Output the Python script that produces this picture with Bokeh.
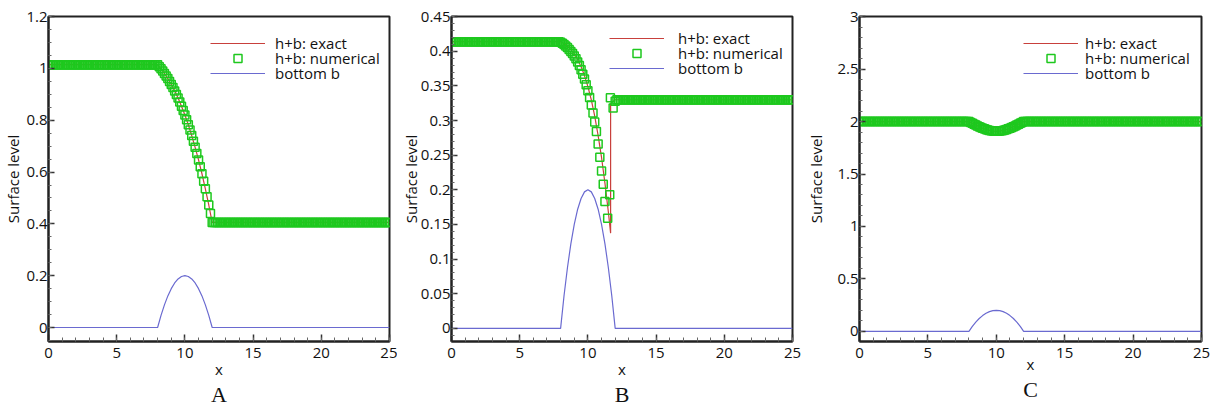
import numpy as np
from bokeh.plotting import figure
from bokeh.layouts import row
from bokeh.models import (Range1d, SingleIntervalTicker, CustomJSTickFormatter,
                          Legend, LegendItem)
from bokeh.embed import file_html
from bokeh.resources import INLINE

# ---------------- data ----------------
# numerical mesh nodes (cell spacing 0.125)
x_mesh = np.linspace(0, 25, 201)

# bottom topography b(x), same bump in all three cases
bottom_x = [0, 8, 8.25, 8.5, 8.75, 9, 9.25, 9.5, 9.75, 10, 10.25, 10.5,
            10.75, 11, 11.25, 11.5, 11.75, 12, 25]
bottom_b = [0, 0, 0.047, 0.0875, 0.122, 0.15, 0.172, 0.1875, 0.197, 0.2,
            0.197, 0.1875, 0.172, 0.15, 0.122, 0.0875, 0.047, 0, 0]

# --- A: transcritical flow without shock ---
A_exact_x = [0, 8, 8.25, 8.5, 8.75, 9, 9.25, 9.5, 9.75, 10, 10.25, 10.5,
             10.75, 11, 11.25, 11.5, 11.75, 12, 25]
A_exact_y = [1.0145, 1.0145, 0.9987, 0.9808, 0.961, 0.9383, 0.9134, 0.8855,
             0.854, 0.8202, 0.7827, 0.741, 0.6954, 0.6468, 0.5935, 0.5352,
             0.4729, 0.4057, 0.4057]
A_num_up = 1.0145
A_num_down = 0.4057
A_num_mid_x = [8.0, 8.125, 8.25, 8.375, 8.5, 8.625, 8.75, 8.875, 9.0, 9.125,
               9.25, 9.375, 9.5, 9.625, 9.75, 9.875, 10.0, 10.125, 10.25,
               10.375, 10.5, 10.625, 10.75, 10.875, 11.0, 11.125, 11.25,
               11.375, 11.5, 11.625, 11.75, 11.875, 12.0]
A_num_mid_y = [1.0145, 1.0069, 0.9987, 0.990, 0.9808, 0.9711, 0.961, 0.950,
               0.9383, 0.9261, 0.9134, 0.8999, 0.8855, 0.870, 0.854, 0.8372,
               0.8202, 0.8017, 0.7827, 0.7622, 0.741, 0.719, 0.6954, 0.6716,
               0.6468, 0.6204, 0.5935, 0.565, 0.5352, 0.5045, 0.4729, 0.4397,
               0.4057]

# --- B: transcritical flow with shock ---
B_exact_x = [0, 8, 8.25, 8.5, 8.75, 9, 9.25, 9.5, 9.75, 10, 10.25, 10.5,
             10.75, 11, 11.25, 11.5, 11.665, 11.665, 11.8, 12, 25]
B_exact_y = [0.4138, 0.4138, 0.4113, 0.4073, 0.4022, 0.3961, 0.3881, 0.3778,
             0.3649, 0.3489, 0.3297, 0.3063, 0.2783, 0.2467, 0.2094, 0.1679,
             0.1374, 0.324, 0.327, 0.33, 0.33]
B_num_up = 0.4138
B_num_down = 0.33
B_num_mid_x = [8.0, 8.125, 8.25, 8.375, 8.5, 8.625, 8.75, 8.875, 9.0, 9.125,
               9.25, 9.375, 9.5, 9.625, 9.75, 9.875, 10.0, 10.125, 10.25,
               10.375, 10.5, 10.625, 10.75, 10.875, 11.0, 11.125, 11.25,
               11.45, 11.6, 11.65, 11.85, 12.0]
B_num_mid_y = [0.413, 0.4115, 0.4098, 0.4077, 0.4053, 0.4027, 0.3998, 0.3967,
               0.3931, 0.3891, 0.3845, 0.3793, 0.3735, 0.367, 0.3598, 0.3517,
               0.343, 0.3333, 0.3226, 0.3109, 0.298, 0.284, 0.266, 0.247,
               0.227, 0.208, 0.183, 0.159, 0.193, 0.333, 0.318, 0.328]

# --- C: subcritical flow ---
C_exact_x = [0, 8, 8.25, 8.5, 8.75, 9, 9.25, 9.5, 9.75, 10, 10.25, 10.5,
             10.75, 11, 11.25, 11.5, 11.75, 12, 25]
C_exact_y = [2.0, 2.0, 1.9834, 1.967, 1.9519, 1.937, 1.9249, 1.9155, 1.9099,
             1.907, 1.9099, 1.9155, 1.9249, 1.937, 1.9519, 1.967, 1.9834,
             2.0, 2.0]
C_num_up = 2.0
C_num_down = 2.0
C_num_mid_x = [8.0, 8.125, 8.25, 8.375, 8.5, 8.625, 8.75, 8.875, 9.0, 9.125,
               9.25, 9.375, 9.5, 9.625, 9.75, 9.875, 10.0, 10.125, 10.25,
               10.375, 10.5, 10.625, 10.75, 10.875, 11.0, 11.125, 11.25,
               11.375, 11.5, 11.625, 11.75, 11.875, 12.0]
C_num_mid_y = [2.0, 1.9915, 1.9834, 1.975, 1.967, 1.959, 1.9519, 1.944,
               1.937, 1.931, 1.9249, 1.92, 1.9155, 1.9125, 1.9099, 1.908,
               1.907, 1.908, 1.9099, 1.9125, 1.9155, 1.92, 1.9249, 1.931,
               1.937, 1.944, 1.9519, 1.959, 1.967, 1.975, 1.9834, 1.9915, 2.0]

legend_labels = ["h+b: exact", "h+b: numerical", "bottom b"]
panel_letters = ["A", "B", "C"]
x_label = "x"
y_label = "Surface level"

# ---------------- style ----------------
RED = "#c8403c"
GREEN = "#1ec81e"
BLUE = "#6a6ad0"
FONT = "Open Sans"
AXC = "#222222"

FMT = "return String(Math.round(tick * 1000) / 1000);"


def numerical(mid_x, mid_y, up, down):
    left = [float(v) for v in x_mesh if v < mid_x[0] - 1e-9]
    right = [float(v) for v in x_mesh if v > mid_x[-1] + 1e-9]
    xs = left + list(mid_x) + right
    ys = [up] * len(left) + list(mid_y) + [down] * len(right)
    return xs, ys


def panel(width, bl, br, yr, interval, nminor, ex_x, ex_y, num, letter,
          leg_x, leg_standoff, ylab_standoff, leg_vy, xlab_standoff):
    p = figure(width=width, height=408, x_range=Range1d(0, 25),
               y_range=Range1d(*yr), output_backend="svg",
               toolbar_location=None, min_border_left=bl,
               min_border_right=br, min_border_top=16, min_border_bottom=10,
               title=letter, title_location="below")
    p.title.align = "center"
    p.title.vertical_align = "top"
    p.title.text_font = "Liberation Serif"
    p.title.text_font_size = "22px"
    p.title.text_font_style = "normal"
    p.title.text_color = "#111111"
    p.title.standoff = 0
    p.xgrid.visible = False
    p.ygrid.visible = False
    p.outline_line_color = AXC
    p.outline_line_width = 2
    p.outline_line_alpha = 1
    p.xaxis.ticker = SingleIntervalTicker(interval=5, num_minor_ticks=5)
    p.yaxis.ticker = SingleIntervalTicker(interval=interval,
                                          num_minor_ticks=nminor)
    p.xaxis.formatter = CustomJSTickFormatter(code=FMT)
    p.yaxis.formatter = CustomJSTickFormatter(code=FMT)
    for ax in (p.xaxis[0], p.yaxis[0]):
        ax.axis_line_color = AXC
        ax.axis_line_width = 2
        ax.major_tick_out = 0
        ax.minor_tick_out = 0
        ax.major_tick_line_color = "#333333"
        ax.major_tick_line_width = 1.5
        ax.minor_tick_line_color = "#666666"
        ax.major_label_text_font = FONT
        ax.major_label_text_font_size = "15px"
        ax.major_label_text_color = "#111111"
        ax.axis_label_text_font = FONT
        ax.axis_label_text_font_size = "15px"
        ax.axis_label_text_font_style = "normal"
        ax.axis_label_text_color = "#111111"
    p.xaxis.major_tick_in = 7
    p.xaxis.minor_tick_in = 4
    p.yaxis.major_tick_in = 6
    p.yaxis.minor_tick_in = 3
    p.xaxis.major_label_standoff = 6
    p.xaxis.axis_label_standoff = xlab_standoff
    p.yaxis.major_label_standoff = 1
    p.yaxis.axis_label_standoff = ylab_standoff
    p.xaxis.axis_label = x_label
    p.yaxis.axis_label = y_label

    r_b = p.line(bottom_x, bottom_b, line_color=BLUE, line_width=1.2)
    r_e = p.line(ex_x, ex_y, line_color=RED, line_width=1.2)
    nx, ny = num
    r_n = p.scatter(nx, ny, marker="square", size=8, fill_color=None,
                    line_color=GREEN, line_width=1.5)

    # one legend per row, so that the rows sit as tightly as in the original
    for lab, rend, vy in zip(legend_labels, [r_e, r_n, r_b], leg_vy):
        lg = Legend(items=[LegendItem(label=lab, renderers=[rend])],
                    location=(leg_x, vy), border_line_color=None,
                    background_fill_alpha=0, padding=0, margin=0, spacing=0,
                    glyph_width=55, glyph_height=20, label_height=20,
                    label_standoff=leg_standoff,
                    label_text_font=FONT, label_text_font_size="15px",
                    label_text_line_height=1.0,
                    label_text_color="#111111")
        p.add_layout(lg)
    return p


pA = panel(397, 48, 8, (-0.054, 1.2005), 0.2, 4, A_exact_x, A_exact_y,
           numerical(A_num_mid_x, A_num_mid_y, A_num_up, A_num_down),
           panel_letters[0], 162, 10, 0, [288, 273, 258], -2)
pB = panel(406, 54, 11, (-0.019, 0.4502), 0.05, 5, B_exact_x, B_exact_y,
           numerical(B_num_mid_x, B_num_mid_y, B_num_up, B_num_down),
           panel_letters[1], 158, 14, -3, [293, 278, 263], -2)
pC = panel(413, 56, 15, (-0.097, 3.002), 0.5, 5, C_exact_x, C_exact_y,
           numerical(C_num_mid_x, C_num_mid_y, C_num_up, C_num_down),
           panel_letters[2], 164, 7, 8, [288, 273, 258], -7)

layout = row(pA, pB, pC)
open("out.html", "w").write(file_html(layout, INLINE))
